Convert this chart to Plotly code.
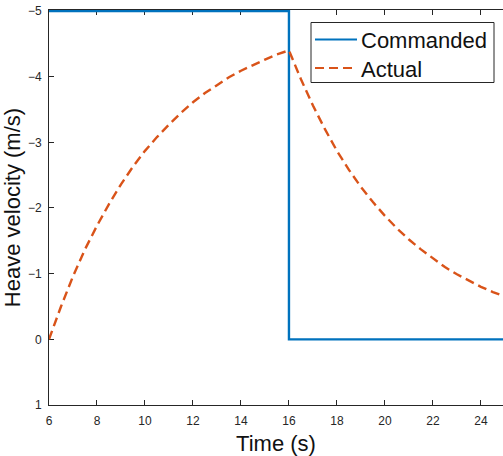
import plotly.graph_objects as go

# Commanded heave velocity: step from -5 m/s down to 0 at t = 16 s
cmd_time = [6, 16, 16, 25]
cmd_vel = [-5, -5, 0, 0]

# Measured (actual) heave velocity, sampled every 0.5 s
act_time = [6.0, 6.5, 7.0, 7.5, 8.0, 8.5, 9.0, 9.5, 10.0, 10.5, 11.0, 11.5,
            12.0, 12.5, 13.0, 13.5, 14.0, 14.5, 15.0, 15.5, 16.0,
            16.5, 17.0, 17.5, 18.0, 18.5, 19.0, 19.5, 20.0, 20.5, 21.0,
            21.5, 22.0, 22.5, 23.0, 23.5, 24.0, 24.5, 25.0, 25.5]
act_vel = [0.0, -0.50, -0.96, -1.37, -1.73, -2.06, -2.36, -2.63, -2.87, -3.08,
           -3.27, -3.45, -3.61, -3.75, -3.87, -3.99, -4.09, -4.18, -4.26, -4.34,
           -4.40, -3.96, -3.56, -3.20, -2.87, -2.58, -2.32, -2.09, -1.88, -1.69,
           -1.52, -1.37, -1.23, -1.10, -0.99, -0.89, -0.80, -0.72, -0.65, -0.58]

series_names = ["Commanded", "Actual"]
series_colors = ["#0072BD", "#D95319"]
series_dash = ["solid", "9px,5px"]

x_ticks = [6, 8, 10, 12, 14, 16, 18, 20, 22, 24]
y_ticks = [-5, -4, -3, -2, -1, 0, 1]

AX = "#262626"
FONT = "Liberation Sans, Arial, sans-serif"

W, H = 503, 456
ML, MR, MT, MB = 49, 0, 10, 51
PW, PH = W - ML - MR, H - MT - MB


def px_x(p):
    """pixel column -> paper x"""
    return (p - ML) / PW


def px_y(p):
    """pixel row -> paper y"""
    return (H - MB - p) / PH


fig = go.Figure()
fig.add_trace(go.Scatter(x=cmd_time, y=cmd_vel, mode="lines", name=series_names[0],
                         line=dict(color=series_colors[0], width=2.4,
                                   dash=series_dash[0])))
fig.add_trace(go.Scatter(x=act_time, y=act_vel, mode="lines", name=series_names[1],
                         line=dict(color=series_colors[1], width=2.4,
                                   dash=series_dash[1])))

# Boxed legend in the upper right, MATLAB style
shapes = [dict(type="rect", xref="paper", yref="paper",
               x0=px_x(311), x1=px_x(494), y0=px_y(82.5), y1=px_y(22.5),
               line=dict(color=AX, width=1), fillcolor="white", layer="above")]
annotations = []
for i, (nm, col, ds) in enumerate(zip(series_names, series_colors, series_dash)):
    row = 39.5 + i * 28.5
    shapes.append(dict(type="line", xref="paper", yref="paper",
                       x0=px_x(315), x1=px_x(357), y0=px_y(row), y1=px_y(row),
                       line=dict(color=col, width=2, dash=ds), layer="above"))
    annotations.append(dict(xref="paper", yref="paper", x=px_x(359), y=px_y(row + 1),
                            text=nm, showarrow=False, xanchor="left", yanchor="middle",
                            font=dict(size=22, color="#111111", family=FONT)))

fig.update_layout(
    width=W, height=H,
    margin=dict(l=ML, r=MR, t=MT, b=MB),
    paper_bgcolor="white", plot_bgcolor="white",
    font=dict(family=FONT, color=AX),
    showlegend=False,
    shapes=shapes,
    annotations=annotations,
    xaxis=dict(range=[6, 24.92], tickvals=x_ticks, ticks="inside", ticklen=5,
               tickcolor=AX, showline=True, linecolor=AX, linewidth=1,
               mirror="ticks", showgrid=False, zeroline=False, layer="below traces",
               tickfont=dict(size=12, color=AX), ticklabelstandoff=5,
               title=dict(text="Time (s)", font=dict(size=22, color="#111111"),
                          standoff=9)),
    yaxis=dict(range=[1, -5.015], tickvals=y_ticks, ticks="inside", ticklen=5,
               tickcolor=AX, showline=True, linecolor=AX, linewidth=1,
               showgrid=False, zeroline=False, layer="below traces",
               tickfont=dict(size=12, color=AX), ticklabelstandoff=4,
               title=dict(text="Heave velocity (m/s)",
                          font=dict(size=22, color="#111111"), standoff=6)),
)

fig.write_html("out.html")
